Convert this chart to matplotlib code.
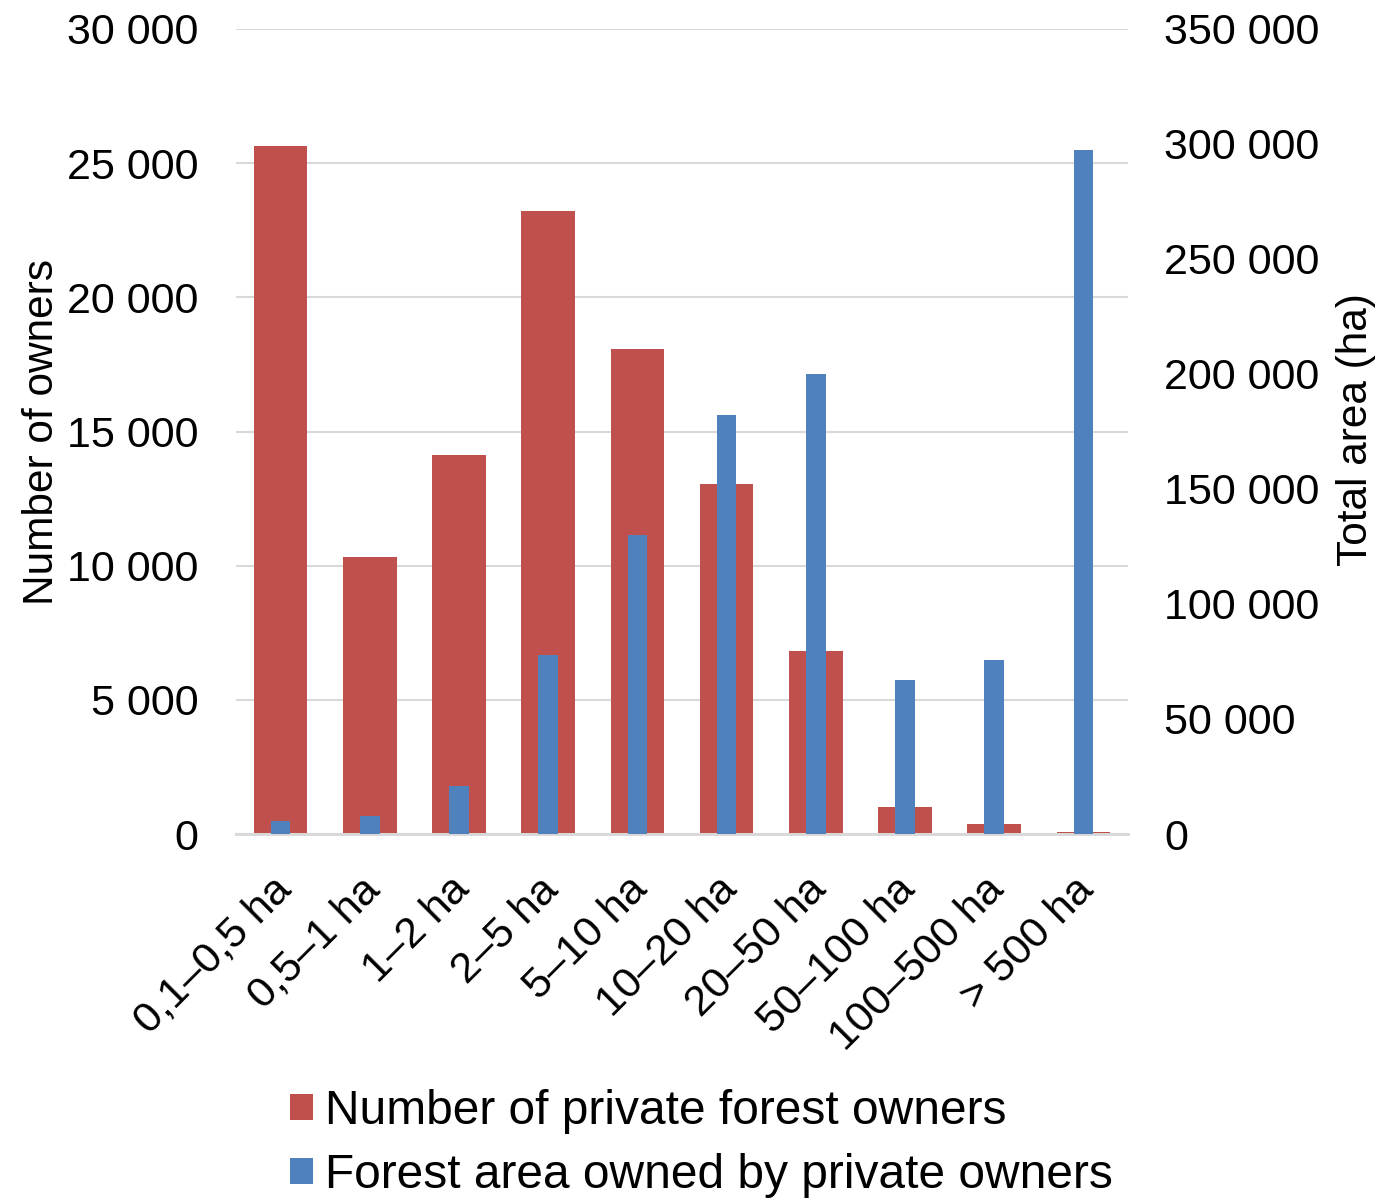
import numpy as np
import matplotlib.pyplot as plt
import matplotlib.transforms as mtransforms

plt.rcParams['font.family'] = ['Liberation Sans', 'DejaVu Sans']

classes = ['0,1–0,5 ha', '0,5–1 ha', '1–2 ha', '2–5 ha', '5–10 ha',
           '10–20 ha', '20–50 ha', '50–100 ha', '100–500 ha', '> 500 ha']
owners = [25650, 10330, 14130, 23230, 18060, 13030, 6830, 1000, 380, 90]
area_ha = [5600, 7800, 20900, 77800, 130000, 182200, 200000, 67000, 75700, 297500]

red = '#C0504D'
blue = '#4F81BD'
grid_col = '#D9D9D9'

x = np.arange(len(classes))

W, H = 1379, 1200
L, R, T, B = 236, 1128, 29, 834   # plot area in pixels

fig = plt.figure(figsize=(W / 100, H / 100), dpi=100)
ax = fig.add_axes([L / W, 1 - B / H, (R - L) / W, (B - T) / H])
ax2 = ax.twinx()

ax.bar(x, owners, width=0.6, color=red, zorder=2, label='Number of private forest owners')
ax2.bar(x, area_ha, width=0.22, color=blue, zorder=3, label='Forest area owned by private owners')

ax.set_xlim(-0.5, len(classes) - 0.5)
ax.set_ylim(0, 30000)
ax2.set_ylim(0, 350000)
ax.set_yticks(np.arange(0, 30001, 5000))
ax2.set_yticks(np.arange(0, 350001, 50000))

fmt = lambda v: f'{int(v):,}'.replace(',', ' ')
ax.set_yticklabels([fmt(v) for v in ax.get_yticks()], fontsize=31)
ax2.set_yticklabels([fmt(v) for v in ax2.get_yticks()], fontsize=31)

ax.set_xticks(x)
ax.set_xticklabels(classes, fontsize=31, rotation=45, ha='right',
                   va='top', rotation_mode='anchor')

ax.grid(axis='y', color=grid_col, linewidth=1.5, zorder=0)
ax.set_axisbelow(True)
for a in (ax, ax2):
    for s in ('top', 'left', 'right'):
        a.spines[s].set_visible(False)
    a.spines['bottom'].set_color(grid_col)
    a.spines['bottom'].set_linewidth(2)
    a.tick_params(length=0)
ax.tick_params(axis='y', pad=27)
ax2.tick_params(axis='y', pad=26)
ax.tick_params(axis='x', pad=14)

# nudge the slanted category labels (after tick_params, which resets transforms)
shift = mtransforms.ScaledTranslation(-10 / 100, -16 / 100, fig.dpi_scale_trans)
for lbl in ax.get_xticklabels():
    lbl.set_transform(lbl.get_transform() + shift)

ax.set_ylabel('Number of owners', fontsize=30.5)
ax2.set_ylabel('Total area (ha)', fontsize=30.5)
ax.yaxis.set_label_coords((62 - L) / (R - L), (B - 432) / (B - T))
ax2.yaxis.set_label_coords((1336 - L) / (R - L), (B - 430) / (B - T))

h1, l1 = ax.get_legend_handles_labels()
h2, l2 = ax2.get_legend_handles_labels()
fig.legend(h1 + h2, l1 + l2, loc='upper left', bbox_to_anchor=(290 / W, 1 - 1089 / H),
           frameon=False, fontsize=34.5, handlelength=0.48, handleheight=0.48,
           handletextpad=0.25, labelspacing=0.4, borderpad=0, borderaxespad=0)

fig.savefig('out.png', dpi=100)
